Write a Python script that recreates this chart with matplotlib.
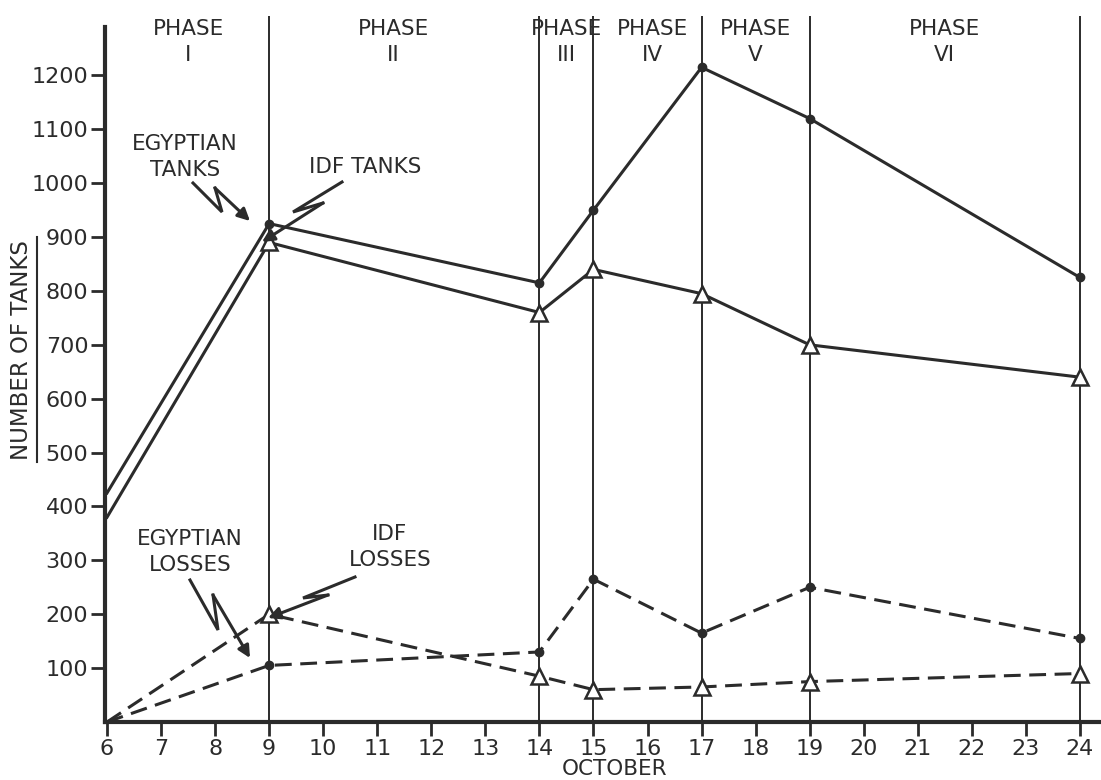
import numpy as np
import matplotlib
matplotlib.use("Agg")
import matplotlib.pyplot as plt

plt.rcParams['font.family'] = ['DejaVu Sans']

# October days with readings
days = [6, 9, 14, 15, 17, 19, 24]
egypt_tanks = [425, 925, 815, 950, 1215, 1120, 825]
idf_tanks = [380, 890, 760, 840, 795, 700, 640]
egypt_losses = [0, 105, 130, 265, 165, 250, 155]
idf_losses = [0, 200, 85, 60, 65, 75, 90]

phase_days = [9, 14, 15, 17, 19, 24]
phase_names = ["PHASE\nI", "PHASE\nII", "PHASE\nIII", "PHASE\nIV", "PHASE\nV", "PHASE\nVI"]
phase_label_x = [7.5, 11.3, 14.5, 16.1, 18.0, 21.5]

x_ticks = list(range(6, 25))
y_ticks = list(range(100, 1300, 100))

ink = "#2b2b2b"
W, H = 1101, 780
fs = 15.5

fig = plt.figure(figsize=(W / 100, H / 100), dpi=100)
ax = fig.add_axes([105 / W, 58 / H, (W - 105) / W, 722 / H])
ax.set_xlim(5.963, 24.39)
ax.set_ylim(0, 1340)

# phase separators
ax.vlines(phase_days, 0, 1310, color=ink, lw=1.4, zorder=1)

dash = (0, (5.5, 2.8))
# tank strengths (no marker on the opening day)
ax.plot(days, egypt_tanks, color=ink, lw=2.2, marker="o", ms=6,
        mfc=ink, mec=ink, markevery=list(range(1, 7)), zorder=3)
ax.plot(days, idf_tanks, color=ink, lw=2.2, marker="^", ms=12,
        mfc="white", mec=ink, mew=1.8, markevery=list(range(1, 7)), zorder=3)

# losses
ax.plot(days, egypt_losses, color=ink, lw=2.2, ls=dash, marker="o",
        ms=6, mfc=ink, mec=ink, markevery=list(range(1, 7)), zorder=3)
ax.plot(days, idf_losses, color=ink, lw=2.2, ls=dash,
        marker="^", ms=12, mfc="white", mec=ink, mew=1.8,
        markevery=list(range(1, 7)), zorder=3)

# axes styling
for s in ["top", "right"]:
    ax.spines[s].set_visible(False)
ax.spines["left"].set_linewidth(3)
ax.spines["bottom"].set_linewidth(3)
ax.spines["left"].set_color(ink)
ax.spines["bottom"].set_color(ink)
ax.spines["left"].set_bounds(0, 1290)
ax.set_xticks(x_ticks)
ax.set_yticks(y_ticks)
ax.tick_params(axis="both", direction="out", length=10, width=2, color=ink,
               labelsize=16, labelcolor=ink)
ax.tick_params(axis="y", pad=2)
ax.tick_params(axis="x", pad=2)
fig.text(615 / W, 1 - 769 / H, "OCTOBER", ha="center", va="center",
         fontsize=fs, color=ink)

# phase labels
for x, name in zip(phase_label_x, phase_names):
    ax.text(x, 1304, name, ha="center", va="top", fontsize=fs, color=ink,
            linespacing=1.35)

# y label, underlined on its right side
fig.text(22 / W, 1 - 350 / H, "NUMBER OF TANKS", rotation=90, ha="center",
         va="center", fontsize=16.5, color=ink)
fig.add_artist(plt.Line2D([37 / W, 37 / W], [1 - 237 / H, 1 - 462 / H],
                          color=ink, lw=1.5))


def px(points):
    # image pixel positions (origin top-left) -> data coords
    inv = ax.transData.inverted()
    return inv.transform([(p[0], H - p[1]) for p in points])


def bolt(points):
    pts = px(points)
    ax.plot(pts[:-1, 0], pts[:-1, 1], color=ink, lw=2.2, zorder=4,
            solid_joinstyle="miter")
    ax.annotate("", xy=pts[-1], xytext=pts[-2],
                arrowprops=dict(arrowstyle="-|>", color=ink, lw=2.2,
                                mutation_scale=18, shrinkA=0, shrinkB=0),
                zorder=4)


fig.canvas.draw()
bolt([(193, 183), (222, 212), (215, 188), (250, 221)])
bolt([(342, 182), (293, 212), (323, 203), (262, 242)])
bolt([(190, 580), (218, 630), (213, 595), (250, 658)])
bolt([(355, 577), (303, 598), (328, 595), (268, 618)])

# annotation labels
tp = px([(185, 157), (365, 167), (190, 552), (390, 547)])
ax.text(*tp[0], "EGYPTIAN\nTANKS", ha="center", va="center", fontsize=fs,
        color=ink, linespacing=1.35)
ax.text(*tp[1], "IDF TANKS", ha="center", va="center", fontsize=fs, color=ink)
ax.text(*tp[2], "EGYPTIAN\nLOSSES", ha="center", va="center", fontsize=fs,
        color=ink, linespacing=1.35)
ax.text(*tp[3], "IDF\nLOSSES", ha="center", va="center", fontsize=fs,
        color=ink, linespacing=1.35)

fig.savefig("out.png", dpi=100)
